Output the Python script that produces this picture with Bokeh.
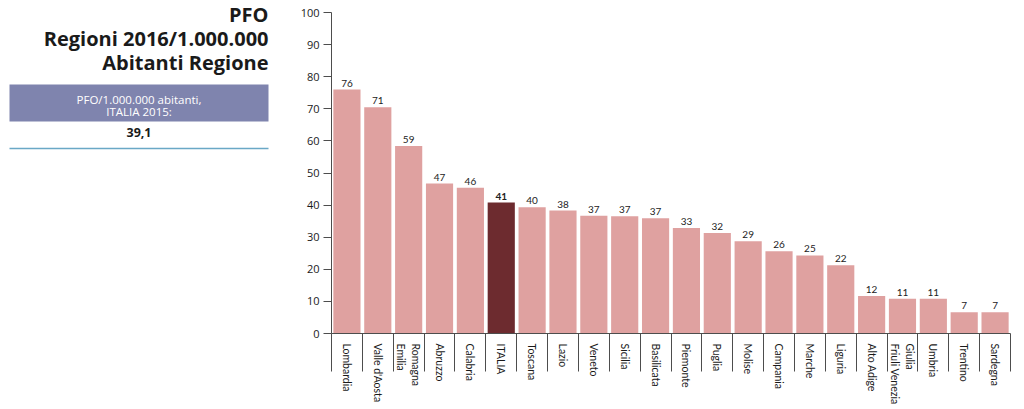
from bokeh.plotting import figure
from bokeh.models import ColumnDataSource, Range1d, FixedTicker
from bokeh.layouts import row
from bokeh.core.properties import value
from bokeh.embed import file_html
from bokeh.resources import INLINE

# ---- data ----
regions = ["Lombardia", "Valle d'Aosta", "Emilia Romagna", "Abruzzo", "Calabria", "ITALIA",
           "Toscana", "Lazio", "Veneto", "Sicilia", "Basilicata", "Piemonte", "Puglia",
           "Molise", "Campania", "Marche", "Liguria", "Alto Adige", "Friuli Venezia Giulia",
           "Umbria", "Trentino", "Sardegna"]
values = [76.0, 70.5, 58.4, 46.7, 45.4, 40.8, 39.3, 38.3, 36.7, 36.5, 35.9, 32.9, 31.3,
          28.7, 25.6, 24.3, 21.3, 11.7, 10.8, 10.8, 6.6, 6.6]
value_labels = ["76", "71", "59", "47", "46", "41", "40", "38", "37", "37", "37", "33", "32",
                "29", "26", "25", "22", "12", "11", "11", "7", "7"]
# two-line labels: Bokeh stacks rotated lines right-to-left, so the lines are listed reversed
tick_labels = ["Lombardia", "Valle d'Aosta", "Romagna\nEmilia", "Abruzzo", "Calabria", "ITALIA",
               "Toscana", "Lazio", "Veneto", "Sicilia", "Basilicata", "Piemonte", "Puglia",
               "Molise", "Campania", "Marche", "Liguria", "Alto Adige", "Giulia\nFriuli Venezia",
               "Umbria", "Trentino", "Sardegna"]
y_ticks = [0, 10, 20, 30, 40, 50, 60, 70, 80, 90, 100]
title_lines = ["PFO", "Regioni 2016/1.000.000", "Abitanti Regione"]
box_lines = ["PFO/1.000.000 abitanti,", "ITALIA 2015:"]
italia_value = "39,1"
highlight = "ITALIA"

PINK = "#dfa1a0"
DARK = "#6d2b2f"
AXIS = "#4d4d4d"

FRAME_H = 333          # both frames start at the top of the row and share this height
Y_TOP = 103.74         # leaves 12px above the 100 tick

# ---- left info panel ----
W_LEFT = 282
left = figure(frame_width=W_LEFT, frame_height=FRAME_H, output_backend="svg",
              toolbar_location=None, title=None,
              x_range=Range1d(0, W_LEFT), y_range=Range1d(FRAME_H, 0),
              x_axis_type=None, y_axis_type=None, min_border=0, align="start")
left.outline_line_color = None
left.grid.visible = False

left.text(x=[268, 268, 268], y=[14, 38, 62], text=title_lines,
          text_align="right", text_baseline="middle",
          text_font=value("Open Sans"), text_font_style="bold",
          text_font_size="20px", text_color="#1a1a1a")
left.quad(left=9, right=268, top=84, bottom=121, fill_color="#7f84ae", line_color=None)
left.text(x=[138.5, 138.5], y=[99, 111], text=box_lines,
          text_align="center", text_baseline="middle",
          text_font=value("Open Sans"), text_font_size="11.5px", text_color="white")
left.text(x=[138.5], y=[132], text=[italia_value], text_align="center", text_baseline="middle",
          text_font=value("Open Sans"), text_font_style="bold", text_font_size="12.5px",
          text_color="#1a1a1a")
left.segment(x0=[9], y0=[148], x1=[268], y1=[148], line_color="#6aa8c6", line_width=1.5)

# ---- main bar chart ----
n = len(regions)
xs = [i + 0.5 for i in range(n)]
colors = [DARK if r == highlight else PINK for r in regions]
styles = ["bold" if r == highlight else "normal" for r in regions]
src = ColumnDataSource(dict(x=xs, top=values, color=colors, lab=value_labels, style=styles))

p = figure(frame_width=679, frame_height=FRAME_H, output_backend="svg", toolbar_location=None,
           x_range=Range1d(0, n), y_range=Range1d(0, Y_TOP), title=None,
           min_border_left=49, min_border_right=6, min_border_top=0, min_border_bottom=10,
           align="start")
p.outline_line_color = None
p.grid.visible = False

p.vbar(x="x", top="top", width=0.88, bottom=0, fill_color="color", line_color=None, source=src)
p.text(x="x", y="top", text="lab", source=src, text_align="center", text_baseline="bottom",
       y_offset=-3, text_font=value("Lato"), text_font_size="10px", text_font_style="style",
       text_color="#222222")

xa = p.xaxis[0]
xa.ticker = FixedTicker(ticks=xs, minor_ticks=list(range(n + 1)))
xa.major_label_overrides = {x: lab for x, lab in zip(xs, tick_labels)}
xa.major_label_orientation = "vertical"
xa.major_tick_out = 0
xa.major_tick_in = 0
xa.minor_tick_out = 38
xa.minor_tick_in = 0
xa.minor_tick_line_color = AXIS
xa.axis_line_color = AXIS
xa.major_label_standoff = -28
xa.major_label_text_font = "Lato"
xa.major_label_text_font_size = "10.5px"
xa.major_label_text_color = "#1a1a1a"

ya = p.yaxis[0]
ya.ticker = FixedTicker(ticks=y_ticks)
ya.bounds = (0, 100)
ya.major_tick_out = 8
ya.major_tick_in = 0
ya.minor_tick_line_color = None
ya.axis_line_color = AXIS
ya.major_tick_line_color = AXIS
ya.major_label_standoff = 4
ya.major_label_text_font = "Open Sans"
ya.major_label_text_font_size = "11px"
ya.major_label_text_color = "#1a1a1a"

layout = row(left, p)
open("out.html", "w").write(file_html(layout, INLINE))
